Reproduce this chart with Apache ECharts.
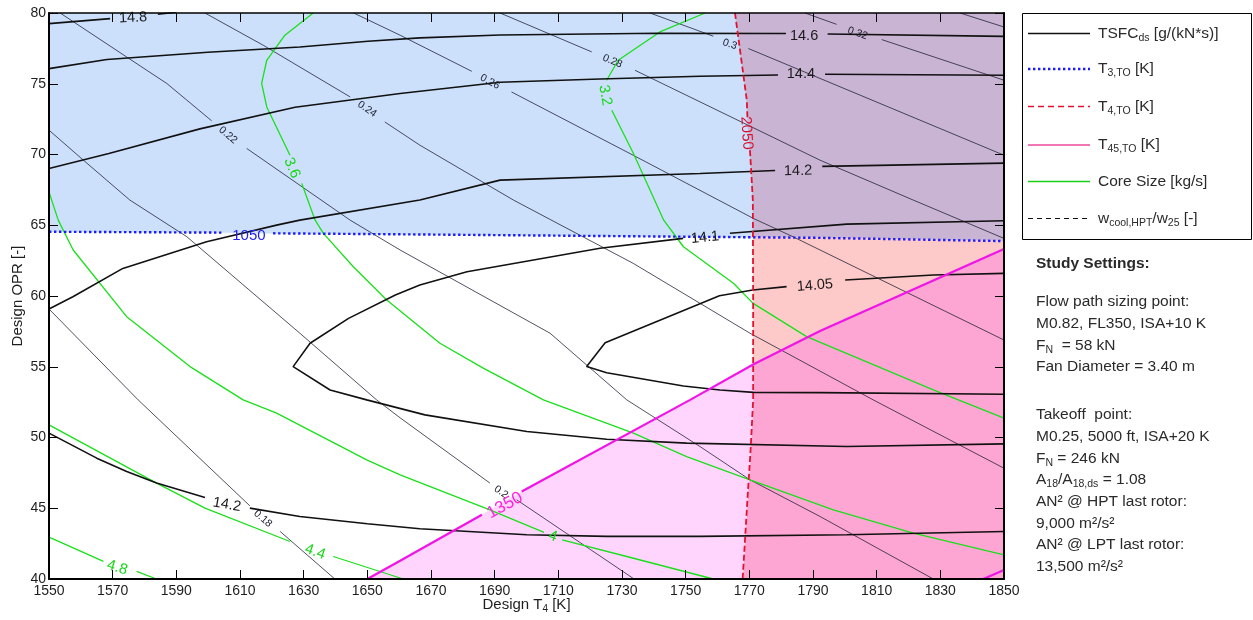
<!DOCTYPE html>
<html>
<head>
<meta charset="utf-8">
<title>TSFC design space: T4 vs OPR</title>
<script src="https://cdn.jsdelivr.net/npm/echarts@6.0.0/dist/echarts.min.js"></script>
<style>
  html, body { margin: 0; padding: 0; background: #ffffff; }
  #chart { width: 1253px; height: 620px; }
</style>
</head>
<body>
<div id="chart"></div>
<script>
// ---- axis ticks ---------------------------------------------------------
const T4_TICKS = [1550, 1570, 1590, 1610, 1630, 1650, 1670, 1690, 1710, 1730, 1750, 1770, 1790, 1810, 1830, 1850];
const OPR_TICKS = [40, 45, 50, 55, 60, 65, 70, 75, 80];

// ---- contour lines, points are [design T4 (K), design OPR (-)] ----------
// null leaves a gap in the line where its level label sits.

// TSFC_ds [g/(kN*s)]
const tsfc148 = [[1550, 79.25], [1569.2, 79.60], null, [1584.2, 79.91], [1590, 80.05]];
const tsfc146 = [[1550, 76.07], [1568.2, 76.71], [1599.9, 77.23], [1628.8, 77.60], [1650.2, 78.00], [1666.5, 78.24], [1691.7, 78.45], [1741.0, 78.57], [1781.5, 78.55], null, [1794.6, 78.52], [1850, 78.35]];
const tsfc144 = [[1550, 69.01], [1568.8, 70.07], [1597.4, 71.81], [1627.3, 73.34], [1660.3, 74.31], [1691.7, 75.11], [1723.1, 75.34], [1754.5, 75.53], [1779.0, 75.62], null, [1793.8, 75.67], [1850, 75.60]];
const tsfc142Upper = [[1550, 59.08], [1557.5, 59.95], [1573.2, 61.95], [1599.5, 63.83], [1621.5, 65.01], [1628.8, 65.36], [1666.5, 66.78], [1691.7, 68.19], [1754.5, 68.66], [1778.1, 68.87], null, [1792.9, 69.16], [1850, 69.39]];
const tsfc141 = [[1850, 65.32], [1800.6, 65.08], [1763.9, 64.43], null, [1749.2, 64.07], [1723.1, 63.37], [1681.3, 61.71], [1666.5, 60.78], [1658.8, 60.07], [1644.1, 58.42], [1632.0, 56.66], [1626.7, 55.01], [1638.3, 53.36], [1649.8, 52.66], [1668.1, 51.60], [1700.1, 50.42], [1725.2, 49.88], [1750.3, 49.60], [1800.6, 49.36], [1850, 49.55]];
const tsfc1405 = [[1850, 61.60], [1827.8, 61.48], [1800.1, 61.13], null, [1781.7, 60.66], [1771.1, 60.42], [1760.6, 60.02], [1724.7, 56.70], [1718.9, 55.01], [1725.2, 54.58], [1749.3, 53.64], [1760.8, 53.36], [1771.3, 53.19], [1792.2, 53.17], [1850, 53.06]];
const tsfc142Lower = [[1550, 50.31], [1565.0, 48.54], [1574.4, 47.59], [1583.8, 46.78], [1599.0, 45.76], null, [1613.1, 45.01], [1628.8, 44.42], [1650.0, 43.90], [1666.5, 43.55], [1700.1, 43.13], [1725.2, 43.01], [1754.5, 43.01], [1800.6, 43.13], [1850, 43.36]];

// HPT cooling air ratio w_cool,HPT / w_25 [-]
const wcool018 = [[1550, 59.08], [1578.0, 52.66], [1613.1, 45.17], null, [1622.6, 43.36], [1639.8, 40]];
const wcool020 = [[1550, 71.72], [1560.8, 69.60], [1575.4, 66.78], [1593.3, 64.19], [1628.8, 57.37], [1652.9, 52.66], [1660.3, 51.39], [1688.5, 46.78], null, [1696.9, 45.60], [1733.8, 40]];
const wcool022 = [[1553.5, 80], [1574.4, 76.89], [1587.0, 75.02], [1601.1, 72.38], null, [1612.1, 70.43], [1625.7, 68.31], [1644.6, 65.36], [1660.3, 63.25], [1707.4, 57.37], [1731.5, 52.66], [1754.5, 49.36], [1770.2, 47.01], [1792.2, 44.42], [1827.8, 40]];
const wcool024 = [[1599.0, 80], [1617.3, 77.72], [1644.6, 74.07], null, [1655.5, 72.30], [1666.5, 70.66], [1695.9, 66.78], [1733.5, 62.31], [1770.2, 57.37], [1808.9, 52.66], [1850, 47.83]];
const wcool026 = [[1645.7, 80], [1660.3, 78.43], [1682.8, 75.88], null, [1695.3, 74.42], [1733.5, 69.95], [1771.3, 65.48], [1783.7, 64.19], [1850, 56.89]];
const wcool028 = [[1691.7, 80], [1720.5, 77.25], null, [1734.1, 75.95], [1792.2, 69.60], [1821.5, 66.78], [1850, 64.07]];
const wcool030 = [[1738.8, 80], [1758.7, 78.36], null, [1769.7, 77.49], [1850, 69.95]];
const wcool032 = [[1787.5, 80], [1797.4, 79.20], null, [1811.6, 78.12], [1850, 75.25]];
const wcool034 = [[1836.2, 80], [1850, 79.01]];

// Core size [kg/s]
const core32 = [[1756.1, 80], [1741.9, 78.66], [1728.8, 76.66], [1725.2, 75.25], null, [1726.8, 73.13], [1733.6, 70.07], [1743.1, 65.36], [1749.3, 63.48], [1765.0, 60.90], [1771.2, 59.48], [1788.0, 57.13], [1827.8, 53.36], [1850, 51.37]];
const core36 = [[1633.0, 80], [1624.1, 78.43], [1618.4, 76.66], [1616.8, 75.02], [1618.4, 73.36], [1625.7, 69.95], null, [1629.4, 67.96], [1633.6, 65.36], [1636.2, 64.43], [1645.6, 62.07], [1656.1, 59.72], [1672.8, 56.66], [1686.4, 54.90], [1705.3, 52.66], [1733.6, 50.31], [1750.3, 48.65], [1770.2, 47.01], [1796.4, 44.89], [1821.5, 43.25], [1850, 41.71]];
const core40 = [[1550, 67.36], [1552.9, 65.36], [1557.6, 63.25], [1574.4, 58.54], [1594.3, 55.01], [1611.0, 52.66], [1621.5, 51.72], [1649.8, 48.42], [1660.3, 47.36], [1688.5, 44.89], [1705.5, 43.30], null, [1711.2, 42.77], [1731.5, 41.59], [1758.7, 40]];
const core44 = [[1550, 50.89], [1583.8, 46.78], [1599.0, 45.01], [1625.7, 42.65], null, [1639.3, 41.59], [1661.3, 40]];
const core48 = [[1550, 42.96], [1567.1, 41.24], null, [1577.5, 40.54], [1583.8, 40]];

// Takeoff temperature limits [K]
const t3Limit1050 = [[1550, 64.54], [1604.7, 64.48], null, [1620.4, 64.43], [1660.3, 64.36], [1792.2, 64.11], [1850, 63.88]];
const t4Limit2050 = [[1765.5, 80], [1769.2, 73.84], [1769.4, 72.63], null, [1770.2, 70.31], [1771.1, 66.78], [1771.2, 59.72], [1771.2, 52.66], [1770.4, 49.13], [1769.4, 45.60], [1767.9, 40]];
const t45Limit1350 = [[1650, 40], [1660.3, 41.29], [1686.0, 44.54], null, [1698.5, 46.18], [1751.4, 52.66], [1771.2, 55.16], [1792.2, 57.53], [1850, 63.32]];
const t45Limit1400 = [[1843.5, 40], [1850, 40.64]];

// ---- inline level labels: [T4, OPR, text] ----------------------------------
const tsfcLabels = [[1576.4, 79.66, '14.8'], [1787.2, 78.40, '14.6'], [1786.2, 75.66, '14.4'], [1785.3, 68.84, '14.2'], [1756.1, 64.13, '14.1'], [1790.6, 60.74, '14.05'], [1605.9, 45.25, '14.2']];
const wcoolLabels = [[1617.2, 44.26, '0.18'], [1692.0, 46.15, '0.2'], [1606.2, 71.37, '0.22'], [1649.9, 73.2, '0.24'], [1688.5, 75.14, '0.26'], [1727.0, 76.59, '0.28'], [1763.9, 77.79, '0.3'], [1804.0, 78.57, '0.32']];
const coreLabels = [[1724.7, 74.19, '3.2'], [1626.3, 69.04, '3.6'], [1708.3, 43.02, '4'], [1633.6, 41.92, '4.4'], [1571.4, 40.80, '4.8']];
const limitLabels = [[1612.8, 64.23, '1050'], [1769.1, 71.51, '2050'], [1693.2, 45.19, '1350']];

// label angles (degrees, counter-clockwise), following the local line direction
const tsfcAngles = [3, 0, 0, 1, 6, 5, -10];
const wcoolAngles = [-41, -35, -40, -35, -28, -23, -19, -19];
const coreAngles = [-80, -67, -20, -19, -17];
const limitAngles = [0, -86, 29];

// ---- styling ---------------------------------------------------------------
const FONT = "'Liberation Sans', Arial, Helvetica, sans-serif";
const TEXT_COLOR = '#1e1e1e';
const STYLE = {
  tsfc:  { color: '#111111', width: 1.6 },
  wcool: { color: 'rgba(28,28,48,0.85)', width: 0.9 },
  core:  { color: '#19e019', width: 1.3 },
  t3:    { color: '#1a1aff', width: 2.4, type: [2.4, 2.6], cap: 'butt' },
  t4:    { color: '#e3122f', width: 1.8, type: [6, 3] },
  t45:   { color: '#f014e6', width: 2.2 }
};
const FILL = {
  t3: '#cce0fc',      // T3 limit exceeded
  t3t4: '#c9b4d4',    // T3 and T4 limits exceeded
  t4: '#fdc9c9',      // T4 limit exceeded
  t45: '#ffd5fd',     // T45 limit exceeded
  t4t45: '#fea6d3'    // T4 and T45 limits exceeded
};

// ---- limit regions, built from the limit lines ----------------------------
const X0 = T4_TICKS[0], X1 = T4_TICKS[T4_TICKS.length - 1];
const Y0 = OPR_TICKS[0], Y1 = OPR_TICKS[OPR_TICKS.length - 1];
const t3Line = t3Limit1050.filter(Boolean);
const t4Line = t4Limit2050.filter(Boolean);
const t45Line = t45Limit1350.filter(Boolean);

// point on a polyline where coordinate k equals v (linear interpolation)
function at(pts, k, v) {
  for (let i = 0; i < pts.length - 1; i++) {
    const a = pts[i], b = pts[i + 1];
    if ((v - a[k]) * (v - b[k]) <= 0) {
      const f = b[k] === a[k] ? 0 : (v - a[k]) / (b[k] - a[k]);
      return [a[0] + f * (b[0] - a[0]), a[1] + f * (b[1] - a[1])];
    }
  }
  const first = pts[0], last = pts[pts.length - 1];
  const e = Math.abs(v - first[k]) < Math.abs(v - last[k]) ? first : last;
  const r = e.slice(); r[k] = v; return r;
}
// part of a polyline between two values of coordinate k, walked from -> to
function section(pts, k, from, to) {
  const lo = Math.min(from, to), hi = Math.max(from, to);
  const mid = pts.filter(p => p[k] > lo && p[k] < hi)
                 .sort((a, b) => from < to ? a[k] - b[k] : b[k] - a[k]);
  return [at(pts, k, from), ...mid, at(pts, k, to)];
}
// OPR where the T4 limit crosses a line given as OPR(T4)
function meetT4(line) {
  let lo = Y0, hi = Y1;
  for (let i = 0; i < 60; i++) {
    const m = (lo + hi) / 2;
    const t = at(t4Line, 1, m)[0];
    if (at(line, 0, t)[1] > m) lo = m; else hi = m;
  }
  return (lo + hi) / 2;
}
const oA = meetT4(t3Line), tA = at(t4Line, 1, oA)[0];
const oB = meetT4(t45Line), tB = at(t4Line, 1, oB)[0];

const regions = [
  { color: FILL.t3,    pts: [[X0, Y1], ...section(t4Line, 1, Y1, oA), ...section(t3Line, 0, tA, X0)] },
  { color: FILL.t3t4,  pts: [...section(t4Line, 1, oA, Y1), [X1, Y1], ...section(t3Line, 0, X1, tA)] },
  { color: FILL.t4,    pts: [...section(t3Line, 0, tA, X1), ...section(t45Line, 0, X1, tB), ...section(t4Line, 1, oB, oA)] },
  { color: FILL.t4t45, pts: [...section(t45Line, 0, tB, X1), [X1, Y0], ...section(t4Line, 1, Y0, oB)] },
  { color: FILL.t45,   pts: [...section(t45Line, 0, t45Line[0][0], tB), ...section(t4Line, 1, oB, Y0)] }
];

// ---- series ------------------------------------------------------------------
function segments(pts) {
  const out = [[]];
  pts.forEach(p => { if (p === null) out.push([]); else out[out.length - 1].push(p); });
  return out.filter(s => s.length > 1);
}
function contour(pts, style, z) {
  return segments(pts).map(seg => ({
    type: 'line', data: seg, symbol: 'none', showSymbol: false, silent: true,
    animation: false, clip: true, z: z, lineStyle: style, emphasis: { disabled: true }
  }));
}

const labelItems = [];
function addLabels(list, angles, color, size) {
  list.forEach((l, i) => labelItems.push({ t: l[0], o: l[1], text: l[2], rot: angles[i], color: color, size: size }));
}
addLabels(tsfcLabels, tsfcAngles, '#1a1a1a', 14.5);
addLabels(wcoolLabels, wcoolAngles, '#1c1c2c', 10.5);
addLabels(coreLabels, coreAngles, '#17d817', 15);
labelItems.push({ t: limitLabels[0][0], o: limitLabels[0][1], text: limitLabels[0][2], rot: limitAngles[0], color: '#2222ee', size: 15 });
labelItems.push({ t: limitLabels[1][0], o: limitLabels[1][1], text: limitLabels[1][2], rot: limitAngles[1], color: '#d81030', size: 15 });
labelItems.push({ t: limitLabels[2][0], o: limitLabels[2][1], text: limitLabels[2][2], rot: limitAngles[2], color: '#ff22dd', size: 17 });

const series = [
  {
    type: 'custom', coordinateSystem: 'cartesian2d', silent: true, animation: false, clip: true, z: 1,
    data: regions.map(r => r.pts[0]),
    renderItem: (params, api) => {
      const r = regions[params.dataIndex];
      return {
        type: 'polygon',
        shape: { points: r.pts.map(p => api.coord(p)) },
        style: { fill: r.color, stroke: r.color, lineWidth: 0.6 }
      };
    }
  },
  ...[wcool018, wcool020, wcool022, wcool024, wcool026, wcool028, wcool030, wcool032, wcool034].flatMap(c => contour(c, STYLE.wcool, 2)),
  ...[core32, core36, core40, core44, core48].flatMap(c => contour(c, STYLE.core, 3)),
  ...[tsfc148, tsfc146, tsfc144, tsfc142Upper, tsfc141, tsfc1405, tsfc142Lower].flatMap(c => contour(c, STYLE.tsfc, 4)),
  ...contour(t3Limit1050, STYLE.t3, 5),
  ...contour(t4Limit2050, STYLE.t4, 5),
  ...contour(t45Limit1350, STYLE.t45, 5),
  ...contour(t45Limit1400, STYLE.t45, 5),
  {
    type: 'custom', coordinateSystem: 'cartesian2d', silent: true, animation: false, clip: false, z: 6,
    data: labelItems.map(l => [l.t, l.o]),
    renderItem: (params, api) => {
      const l = labelItems[params.dataIndex];
      const p = api.coord([l.t, l.o]);
      return {
        type: 'text', x: p[0], y: p[1], rotation: l.rot * Math.PI / 180,
        style: {
          text: l.text, fill: l.color, fontSize: l.size, fontFamily: FONT,
          align: 'center', verticalAlign: 'middle', textAlign: 'center', textVerticalAlign: 'middle'
        }
      };
    }
  }
];

// ---- legend and study settings (right-hand panel) ----------------------------
const legendRows = [
  { text: '{n|TSFC}{s|ds}{n| [g/(kN*s)]}', stroke: '#111111', width: 1.3, dash: null },
  { text: '{n|T}{s|3,TO}{n| [K]}', stroke: '#1a1aff', width: 2.4, dash: [2.4, 2.6] },
  { text: '{n|T}{s|4,TO}{n| [K]}', stroke: '#e3122f', width: 1.3, dash: [6, 4] },
  { text: '{n|T}{s|45,TO}{n| [K]}', stroke: '#ee4a9c', width: 1.3, dash: null },
  { text: '{n|Core Size [kg/s]}', stroke: '#19d019', width: 1.3, dash: null },
  { text: '{n|w}{s|cool,HPT}{n|/w}{s|25}{n| [-]}', stroke: '#111111', width: 1.2, dash: [5, 4] }
];
const takeoffNotes = [
  '{n|Takeoff  point:}',
  '{n|M0.25, 5000 ft, ISA+20 K}',
  '{n|F}{s|N}{n| = 246 kN}',
  '{n|A}{s|18}{n|/A}{s|18,ds}{n| = 1.08}',
  '{n|AN² @ HPT last rotor:}',
  '{n|9,000 m²/s²}',
  '{n|AN² @ LPT last rotor:}',
  '{n|13,500 m²/s²}'
];
const sizingNotes = [
  '{n|Flow path sizing point:}',
  '{n|M0.82, FL350, ISA+10 K}',
  '{n|F}{s|N}{n|  = 58 kN}',
  '{n|Fan Diameter = 3.40 m}'
];

const richText = {
  n: { fontSize: 15.5, lineHeight: 20, verticalAlign: 'middle', fontFamily: FONT, fill: '#2a2a2a' },
  s: { fontSize: 10.5, lineHeight: 10, verticalAlign: 'bottom', fontFamily: FONT, fill: '#2a2a2a' }
};
function panelText(text, x, y) {
  return {
    type: 'text', x: x, y: y, silent: true,
    style: { text: text, rich: richText, fontFamily: FONT, fontSize: 15.5, fill: '#2a2a2a',
             align: 'left', verticalAlign: 'middle', textAlign: 'left', textVerticalAlign: 'middle' }
  };
}

const graphics = [
  { type: 'rect', silent: true, shape: { x: 1022.5, y: 13.5, width: 229, height: 226 },
    style: { fill: '#ffffff', stroke: '#000000', lineWidth: 1 } }
];
const rowY = [33.5, 69, 106.5, 145, 181.5, 218.5];
legendRows.forEach((r, i) => {
  graphics.push({ type: 'line', silent: true, shape: { x1: 1028, y1: rowY[i], x2: 1090, y2: rowY[i] },
    style: { stroke: r.stroke, lineWidth: r.width, lineDash: r.dash || null } });
  graphics.push(panelText(r.text, 1098, rowY[i]));
});
graphics.push({ type: 'text', x: 1036, y: 264, silent: true,
  style: { text: 'Study Settings:', fontFamily: FONT, fontSize: 15.5, fontWeight: 'bold', fill: '#2a2a2a',
           align: 'left', verticalAlign: 'middle', textAlign: 'left', textVerticalAlign: 'middle' } });
sizingNotes.forEach((t, i) => graphics.push(panelText(t, 1036, 302 + i * 21.67)));
takeoffNotes.forEach((t, i) => graphics.push(panelText(t, 1036, 415 + i * 21.67)));

// ---- chart ---------------------------------------------------------------------
const axisLabelFont = { color: TEXT_COLOR, fontSize: 14, fontFamily: FONT };
const tickStyle = { color: '#000000', width: 1 };
const plainNumber = v => String(v);

const option = {
  animation: false,
  backgroundColor: '#ffffff',
  textStyle: { fontFamily: FONT },
  grid: { left: 49, right: 249, top: 13, bottom: 41, containLabel: false, outerBoundsMode: 'none' },
  xAxis: [
    {
      type: 'value', min: X0, max: X1, position: 'bottom', z: 10,
      axisLine: { show: true, onZero: false, lineStyle: { color: '#000000', width: 2 } },
      axisTick: { show: true, inside: true, length: 9, customValues: T4_TICKS, lineStyle: tickStyle },
      axisLabel: Object.assign({ show: true, margin: 5, customValues: T4_TICKS, formatter: plainNumber }, axisLabelFont),
      splitLine: { show: false },
      name: '{n|Design T}{s|4}{n| [K]}', nameLocation: 'middle', nameGap: 17, nameMoveOverlap: false,
      nameTextStyle: {
        rich: {
          n: { fontSize: 15, color: TEXT_COLOR, fontFamily: FONT, lineHeight: 18, verticalAlign: 'middle' },
          s: { fontSize: 10, color: TEXT_COLOR, fontFamily: FONT, lineHeight: 10, verticalAlign: 'bottom' }
        }
      }
    },
    {
      type: 'value', min: X0, max: X1, position: 'top', z: 10,
      axisLine: { show: true, onZero: false, lineStyle: { color: '#000000', width: 1.5 } },
      axisTick: { show: true, inside: true, length: 9, customValues: T4_TICKS, lineStyle: tickStyle },
      axisLabel: { show: false },
      splitLine: { show: false }
    }
  ],
  yAxis: [
    {
      type: 'value', min: Y0, max: Y1, interval: 5, position: 'left', z: 10,
      axisLine: { show: true, onZero: false, lineStyle: { color: '#000000', width: 2 } },
      axisTick: { show: true, inside: true, length: 9, lineStyle: tickStyle },
      axisLabel: Object.assign({ show: true, margin: 3, formatter: plainNumber }, axisLabelFont),
      splitLine: { show: false },
      name: 'Design OPR [-]', nameLocation: 'middle', nameGap: 24, nameMoveOverlap: false,
      nameTextStyle: { fontSize: 15, color: TEXT_COLOR, fontFamily: FONT }
    },
    {
      type: 'value', min: Y0, max: Y1, interval: 5, position: 'right', z: 10,
      axisLine: { show: true, onZero: false, lineStyle: { color: '#000000', width: 2 } },
      axisTick: { show: true, inside: true, length: 9, lineStyle: tickStyle },
      axisLabel: { show: false },
      splitLine: { show: false }
    }
  ],
  series: series,
  graphic: { elements: graphics }
};

const chart = echarts.init(document.getElementById('chart'), null, { renderer: 'canvas' });
chart.setOption(option);
</script>
</body>
</html>
